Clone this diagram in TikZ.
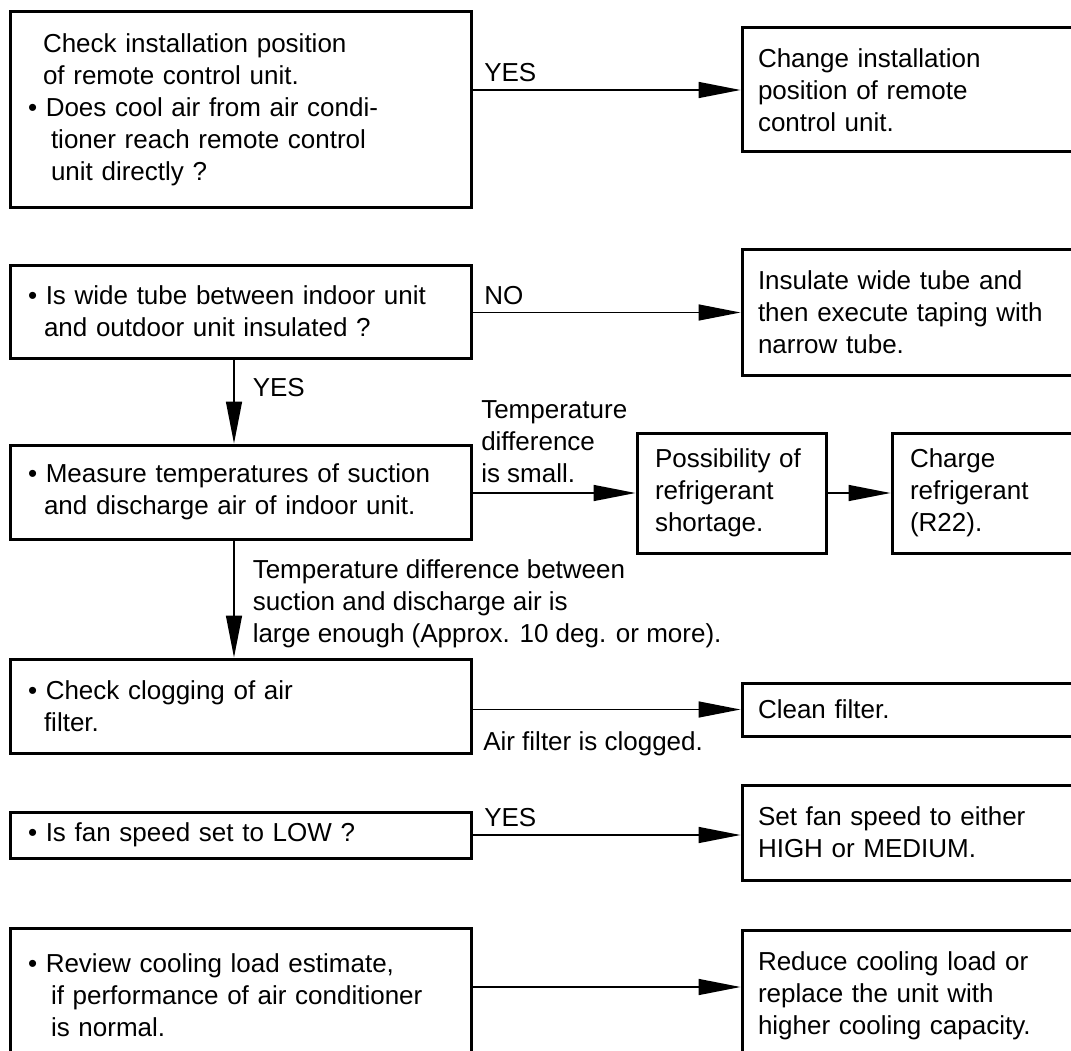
\documentclass[tikz,border=0pt]{standalone}
\usepackage{fontspec}
\setmainfont{Liberation Sans}
\usetikzlibrary{arrows.meta}
\tikzset{
  bx/.style={draw, line width=3pt, rectangle, inner sep=0pt, align=left, font=\fontsize{26}{32}\selectfont},
  lbl/.style={inner sep=0pt, font=\fontsize{26}{32}\selectfont},
  con/.style={line width=1.5pt, -{Triangle[length=42pt,width=16pt]}},
}
\begin{document}
\begin{tikzpicture}[x=1pt,y=-1pt]
\useasboundingbox (0,0) rectangle (1071,1051);
\fill[white] (0,0) rectangle (1071,1051);
\clip (0,0) rectangle (1071,1051);
% left column
\node[bx, minimum width=461pt, minimum height=196pt, text width=425pt] (b1) at (240.5,110)
 {\hspace*{15pt}Check installation position\\\hspace*{15pt}of remote control unit.\\\textbullet{} Does cool air from air condi-\\\hspace*{23pt}tioner reach remote control\\\hspace*{23pt}unit directly ?};
\node[bx, minimum width=461pt, minimum height=93pt, text width=425pt] (b2) at (240.5,311.5)
 {\textbullet{} Is wide tube between indoor unit\\\hspace*{16pt}and outdoor unit insulated ?};
\node[bx, minimum width=461pt, minimum height=94pt, text width=425pt] (b3) at (240.5,492)
 {\textbullet{} Measure temperatures of suction\\\hspace*{16pt}and discharge air of indoor unit.};
\node[bx, minimum width=461pt, minimum height=94pt, text width=425pt] (b4) at (240.5,706)
 {\textbullet{} Check clogging of air\\\hspace*{16pt}filter.};
\node[bx, minimum width=461pt, minimum height=46pt, text width=425pt] (b5) at (240.5,835)
 {\textbullet{} Is fan speed set to LOW ?};
\node[bx, minimum width=461pt, minimum height=134pt, text width=425pt] (b6) at (240.5,995)
 {\textbullet{} Review cooling load estimate,\\\hspace*{23pt}if performance of air conditioner\\\hspace*{23pt}is normal.};
% right column
\node[bx, minimum width=348pt, minimum height=124pt, text width=316pt] (r1) at (916,90)
 {Change installation\\position of remote\\control unit.};
\node[bx, minimum width=348pt, minimum height=125pt, text width=316pt] (r2) at (916,312.5)
 {Insulate wide tube and\\then execute taping with\\narrow tube.};
\node[bx, minimum width=189pt, minimum height=120pt, text width=153pt] (pos) at (731.5,493)
 {Possibility of\\refrigerant\\shortage.};
\node[bx, minimum width=198pt, minimum height=120pt, text width=162pt] (chg) at (991,493)
 {Charge\\refrigerant\\(R22).};
\node[bx, minimum width=348pt, minimum height=53pt, text width=316pt] (cln) at (916,709.5)
 {Clean filter.};
\node[bx, minimum width=348pt, minimum height=95pt, text width=316pt] (fan) at (916,832.5)
 {Set fan speed to either\\HIGH or MEDIUM.};
\node[bx, minimum width=348pt, minimum height=132pt, text width=316pt] (r6) at (916,996)
 {Reduce cooling load or\\replace the unit with\\higher cooling capacity.};
% connectors
\draw[con] (b1.east |- r1.west) node[lbl, anchor=base west, xshift=11pt, yshift=8pt] {YES} -- (r1.west);
\draw[con] (b2.east |- r2.west) node[lbl, anchor=base west, xshift=11pt, yshift=8pt] {NO} -- (r2.west);
\draw[con] ([xshift=-6.5pt]b2.south) -- node[lbl, pos=0.33, anchor=west, xshift=18pt] {YES} ([xshift=-6.5pt]b3.north);
\draw[con] (b3.east |- pos.west) node[lbl, align=left, anchor=south west, xshift=8pt, yshift=9pt] {Temperature\\difference\\is small.} -- (pos.west);
\draw[con] (pos.east) -- (chg.west);
\draw[con] ([xshift=-6.5pt]b3.south) node[lbl, align=left, anchor=north west, xshift=18pt, yshift=-18.5pt] {Temperature difference between\\suction and discharge air is\\large enough (Approx. 10 deg. or more).} -- ([xshift=-6.5pt]b4.north);
\draw[con] (b4.east |- cln.west) node[lbl, anchor=north west, xshift=10pt, yshift=-21pt] {Air filter is clogged.} -- (cln.west);
\draw[con] (b5.east) node[lbl, anchor=base west, xshift=11pt, yshift=9pt] {YES} -- (b5.east -| fan.west);
\draw[con] ([yshift=8pt]b6.east) -- ([yshift=8pt]b6.east -| r6.west);
\end{tikzpicture}
\end{document}
